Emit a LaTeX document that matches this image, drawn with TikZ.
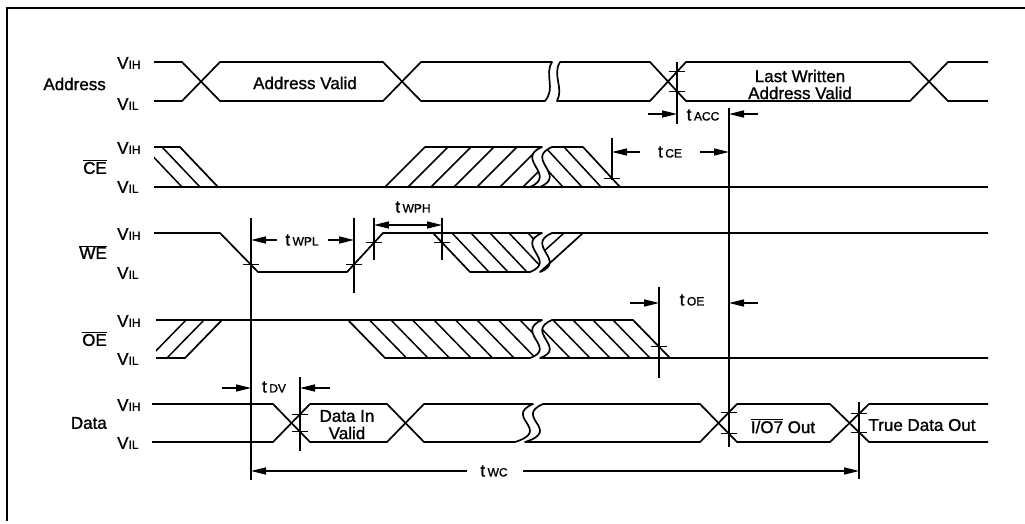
\documentclass[tikz,border=0pt]{standalone}
\usepackage{fontspec}
\setmainfont{Liberation Sans}[BoldFont={Liberation Sans}, BoldFeatures={FakeBold=1.2}]
\usetikzlibrary{arrows.meta}
\newcommand{\vlev}[1]{V{\fontsize{12}{12}\selectfont #1}}
\newcommand{\tlab}[1]{t\hspace{2.5pt}{\fontsize{12}{12}\selectfont #1}}
\begin{document}
\begin{tikzpicture}[x=1pt,y=-1pt,
  >={Triangle[length=15pt,width=7pt]},
  sig/.style={line width=1.7pt, line join=round},
  hat/.style={line width=1.5pt},
  refl/.style={line width=1.5pt},
  dim/.style={line width=1.4pt, ->},
  dimb/.style={line width=1.4pt, <->},
  tickm/.style={line width=1.3pt},
  lab/.style={font=\fontsize{17}{19}\selectfont\bfseries, inner sep=0pt},
  rowlab/.style={lab, anchor=east},
  lev/.style={lab, anchor=west}]
\fill[white] (0,0) rectangle (1025,523);
\useasboundingbox (0,0) rectangle (1025,523);
% frame
\draw[line width=1.6pt] (7,521) -- (7,8) -- (1025,8);
% row labels
\node[rowlab] (lA) at (106,84) {Address};
\node[rowlab] (lC) at (107,167) {$\overline{\mbox{CE}}$};
\node[rowlab] (lW) at (107,252) {$\overline{\mbox{WE}}$};
\node[rowlab] (lO) at (107,339) {$\overline{\mbox{OE}}$};
\node[rowlab] (lD) at (107,423) {Data};
% level labels
\node[lev] (aH) at (117,63) {\vlev{IH}};
\node[lev] (aL) at (117,104) {\vlev{IL}};
\node[lev] (cH) at (117,148) {\vlev{IH}};
\node[lev] (cL) at (117,187) {\vlev{IL}};
\node[lev] (wH) at (117,234) {\vlev{IH}};
\node[lev] (wL) at (117,273) {\vlev{IL}};
\node[lev] (oH) at (117,321) {\vlev{IH}};
\node[lev] (oL) at (117,359) {\vlev{IL}};
\node[lev] (dH) at (117,405) {\vlev{IH}};
\node[lev] (dL) at (117,443) {\vlev{IL}};
% ---------------- Address
\draw[sig] (154,62) -- (182,62) -- (220,101) -- (383,101) -- (421,62) -- (552,62) .. controls (544,75) and (556,88) .. (545,101) -- (421,101) -- (383,62) -- (220,62) -- (182,101) -- (154,101);
\draw[sig] (988,62) -- (948,62) -- (910,101) -- (686,101) -- (650,62) -- (560,62) .. controls (552,75) and (564,88) .. (557,101) -- (650,101) -- (686,62) -- (910,62) -- (948,101) -- (988,101);
\node[lab] (av1) at (305,83) {Address Valid};
\node[lab] (lw1) at (800,76) {Last Written};
\node[lab] (lw2) at (800,93) {Address Valid};
% ---------------- CE
\draw[sig] (154,187) -- (988,187);
\draw[sig] (154,147) -- (180,147) -- (218,187);
\begin{scope}
\clip (154,140) rectangle (230,190);
\draw[hat] (162,147) -- (200,187);
\draw[hat] (144,147) -- (182,187);
\end{scope}
\draw[sig] (385,187) -- (425,147) -- (542,147) .. controls (514,159) and (558,175) .. (530,187);
\begin{scope}
\clip (385,187) -- (425,147) -- (542,147) .. controls (514,159) and (558,175) .. (530,187) -- cycle;
\foreach \b in {408,431,...,540} \draw[hat] (\b,187) -- ({\b+40},147);
\end{scope}
\draw[sig] (540,187) .. controls (568,175) and (524,159) .. (552,147) -- (583,147) -- (620,187);
\begin{scope}
\clip (552,147) -- (583,147) -- (620,187) -- (540,187) .. controls (568,175) and (524,159) .. (552,147);
\foreach \t in {507,526,...,570} \draw[hat] (\t,147) -- ({\t+37},187);
\end{scope}
% ---------------- WE
\draw[sig] (154,233) -- (220,233) -- (258,272) -- (347,272) -- (383,233) -- (542,233) .. controls (514,245) and (558,261) .. (530,272) -- (470,272) -- (433,233);
\begin{scope}
\clip (433,233) -- (542,233) .. controls (514,245) and (558,261) .. (530,272) -- (470,272) -- cycle;
\foreach \t in {452,471,...,550} \draw[hat] (\t,233) -- ({\t+37},272);
\end{scope}
\draw[sig] (988,233) -- (552,233) .. controls (524,245) and (568,261) .. (540,272) -- (583,233);
\begin{scope}
\clip (552,233) -- (583,233) -- (540,272) .. controls (568,261) and (524,245) .. (552,233);
\draw[hat] (521,272) -- (564,233);
\end{scope}
% ---------------- OE
\draw[sig] (156,358) -- (185,358) -- (222,320);
\begin{scope}
\clip (156,315) rectangle (230,362);
\draw[hat] (167,358) -- (204,320);
\draw[hat] (149,358) -- (186,320);
\end{scope}
\draw[sig] (156,320) -- (542,320) .. controls (514,332) and (558,348) .. (530,358) -- (385,358) -- (348,320);
\begin{scope}
\clip (348,320) -- (542,320) .. controls (514,332) and (558,348) .. (530,358) -- (385,358) -- cycle;
\foreach \t in {369.5,391,...,548} \draw[hat] (\t,320) -- ({\t+37},358);
\end{scope}
\draw[sig] (988,358) -- (540,358) .. controls (568,348) and (524,332) .. (552,320) -- (633,320) -- (670,358);
\begin{scope}
\clip (552,320) -- (633,320) -- (670,358) -- (540,358) .. controls (568,348) and (524,332) .. (552,320);
\foreach \t in {533,553,...,620} \draw[hat] (\t,320) -- ({\t+37},358);
\end{scope}
% ---------------- Data
\draw[sig] (152,404) -- (273,404) -- (310,442) -- (387,442) -- (424,404) -- (533,404) .. controls (503,417) and (553,430) .. (515,442) -- (424,442) -- (387,404) -- (310,404) -- (273,442) -- (152,442);
\draw[sig] (988,404) -- (869,404) -- (830,442) -- (737,442) -- (700,404) -- (543,404) .. controls (513,417) and (563,430) .. (525,442) -- (700,442) -- (737,404) -- (830,404) -- (869,442) -- (988,442);
\node[lab] (div1) at (347,416) {Data In};
\node[lab] (div2) at (347,433) {Valid};
\node[lab] (io7) at (783,426) {$\overline{\mbox{I/O7}}$ Out};
\node[lab] (tdo) at (922,425) {True Data Out};
% ---------------- reference verticals
\coordinate (v1t) at (251,218); \coordinate (v1b) at (251,480);
\coordinate (v2t) at (354,218); \coordinate (v2b) at (354,293);
\coordinate (v3t) at (374,218); \coordinate (v3b) at (374,260);
\coordinate (v4t) at (442,218); \coordinate (v4b) at (442,260);
\coordinate (v5t) at (677,62);  \coordinate (v5b) at (677,124);
\coordinate (v6t) at (729,108); \coordinate (v6b) at (729,447);
\coordinate (v7t) at (612,138); \coordinate (v7b) at (612,180);
\coordinate (v8t) at (659,287); \coordinate (v8b) at (659,378);
\coordinate (v9t) at (300,377); \coordinate (v9b) at (300,451);
\coordinate (v10t) at (859,402); \coordinate (v10b) at (859,479);
\foreach \a/\b in {v1t/v1b,v2t/v2b,v3t/v3b,v4t/v4b,v5t/v5b,v6t/v6b,v7t/v7b,v8t/v8b,v9t/v9b,v10t/v10b}
  \draw[refl] (\a) -- (\b);
% ---------------- ticks
\foreach \x/\y in {677/91.25, 677/71.75, 612/178.4, 251/264.8, 354/264.4, 374/242.75, 442/242.5, 659/346.7, 300/431.7, 300/414.3, 729/433.8, 729/412.2, 859/432.3, 859/413.7}
  \draw[tickm] ({\x-8},\y) -- ({\x+8},\y);
% ---------------- dimensions
\draw[dim] (648,114) -- (677,114);
\draw[dim] (758,114) -- (729,114);
\node[lab] (tacc) at (703,115) {\tlab{ACC}};
\draw[dim] (640,152) -- (612,152);
\draw[dim] (700,152) -- (729,152);
\node[lab] (tce) at (670,152) {\tlab{CE}};
\draw[dim] (277,240) -- (251,240);
\draw[dim] (328,240) -- (354,240);
\node[lab] (twpl) at (302,240) {\tlab{WPL}};
\draw[dimb] (374,225) -- (442,225);
\node[lab] (twph) at (413,207) {\tlab{WPH}};
\draw[dim] (630,303) -- (659,303);
\draw[dim] (758,303) -- (729,303);
\node[lab] (toe) at (692,300) {\tlab{OE}};
\draw[dim] (222,388) -- (251,388);
\draw[dim] (330,388) -- (300,388);
\node[lab] (tdv) at (274,387) {\tlab{DV}};
\draw[dim] (467,471) -- (251,471);
\draw[dim] (523,471) -- (859,471);
\node[lab] (twc) at (494,471) {\tlab{WC}};
\end{tikzpicture}
\end{document}
